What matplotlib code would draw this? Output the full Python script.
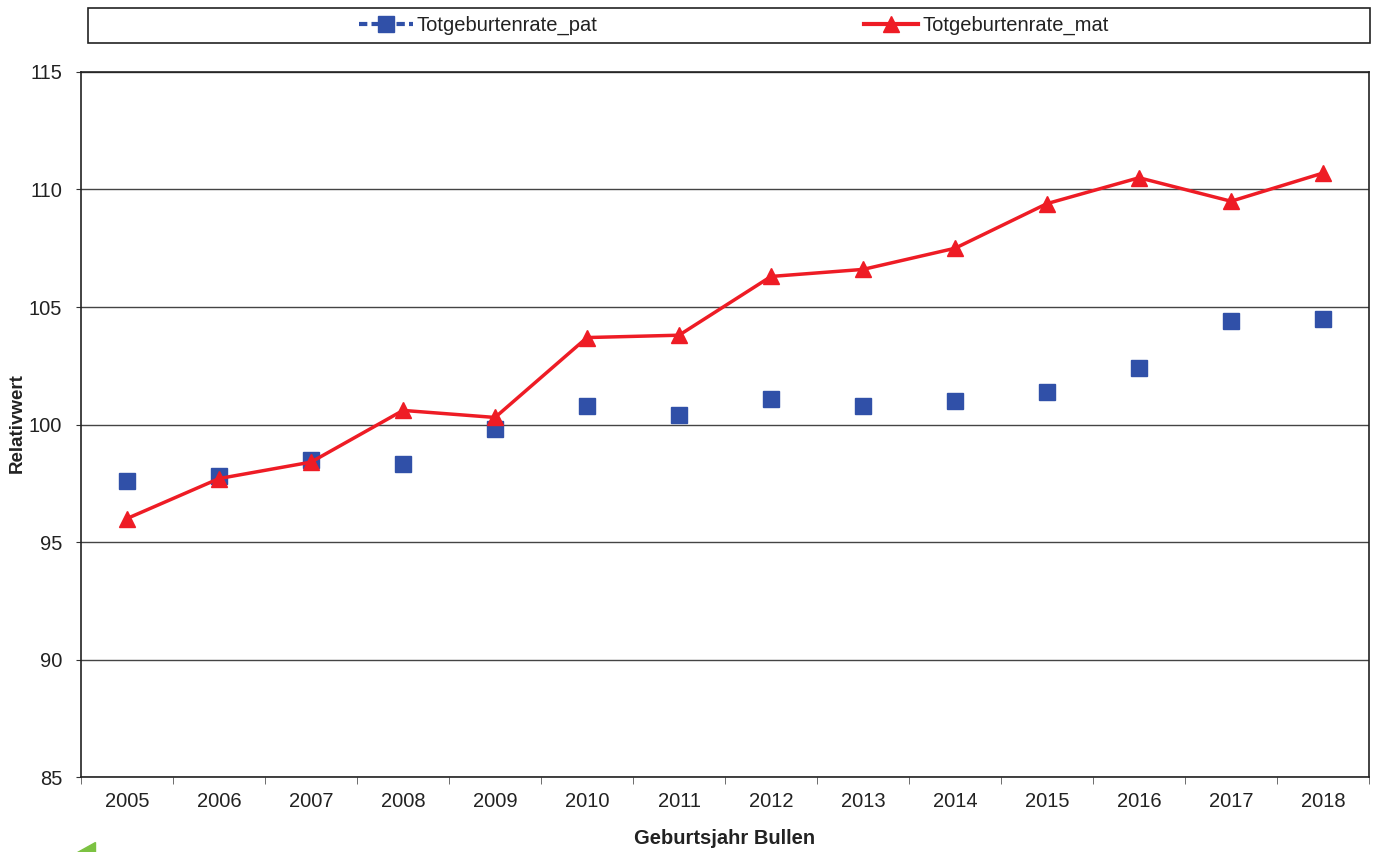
import matplotlib
matplotlib.use('Agg')
import matplotlib.pyplot as plt
from matplotlib.lines import Line2D
from matplotlib.patches import Polygon, Rectangle

plt.rcParams['font.family'] = ['Liberation Sans', 'DejaVu Sans']

years = ['2005', '2006', '2007', '2008', '2009', '2010', '2011',
         '2012', '2013', '2014', '2015', '2016', '2017', '2018']
pat = [97.6, 97.8, 98.5, 98.3, 99.8, 100.8, 100.4,
       101.1, 100.8, 101.0, 101.4, 102.4, 104.4, 104.5]
mat = [96.0, 97.7, 98.4, 100.6, 100.3, 103.7, 103.8,
       106.3, 106.6, 107.5, 109.4, 110.5, 109.5, 110.7]

blue = '#3050a8'
red = '#ee1c25'
fs = 14.5

fig = plt.figure(figsize=(13.78, 8.52), dpi=100)
ax = fig.add_axes([0.0588, 0.088, 0.9347, 0.8275])

x = list(range(len(years)))
ax.plot(x, pat, ls='none', marker='s', ms=11, color=blue, zorder=3)
ax.plot(x, mat, ls='-', lw=2.5, marker='^', ms=11, color=red, zorder=4)

ax.set_xlim(-0.5, len(years) - 0.5)
ax.set_ylim(85, 115)
ax.set_yticks(range(85, 116, 5))
ax.set_xticks(x)
ax.set_xticklabels(years)
ax.set_xticks([i - 0.5 for i in range(len(years) + 1)], minor=True)
ax.tick_params(axis='x', which='major', length=0, pad=11, labelsize=fs, labelcolor='#222222')
ax.tick_params(axis='x', which='minor', length=5, color='#555555')
ax.tick_params(axis='y', length=3.6, pad=10, labelsize=fs, color='#333333', labelcolor='#222222')
ax.grid(axis='y', color='#444444', lw=1)
ax.set_axisbelow(True)
for s in ax.spines.values():
    s.set_color('#222222')
    s.set_linewidth(1.2)

ax.set_xlabel('Geburtsjahr Bullen', fontsize=fs, fontweight='bold', labelpad=13, color='#222222')
ax.set_ylabel('Relativwert', fontsize=13.5, fontweight='bold', color='#222222')
ax.yaxis.set_label_coords(-0.043, 0.502)

# legend box across the top
fig.patches.append(Rectangle((88 / 1378, 1 - 43 / 852), 1282 / 1378, 35 / 852,
                             transform=fig.transFigure, fill=False,
                             edgecolor='#222222', lw=1.2, figure=fig))
handles = [
    Line2D([], [], color=blue, ls=(0, (2, 1)), lw=3, marker='s', ms=11),
    Line2D([], [], color=red, ls='-', lw=3, marker='^', ms=11),
]
leg = fig.legend(handles, ['Totgeburtenrate_pat', 'Totgeburtenrate_mat'],
                 loc='center', ncol=2, bbox_to_anchor=(733.5 / 1378, 1 - 25.5 / 852),
                 fontsize=fs, frameon=False, handlelength=2.7, handletextpad=0.2,
                 columnspacing=13.2, borderpad=0)
for t in leg.get_texts():
    t.set_color('#222222')

# small green corner mark at the bottom left
fig.patches.append(Polygon([(0.056, 0.0), (0.069, 0.0), (0.069, 0.012)],
                           closed=True, transform=fig.transFigure,
                           color='#7cc242', figure=fig))

fig.savefig('out.png', dpi=100)
